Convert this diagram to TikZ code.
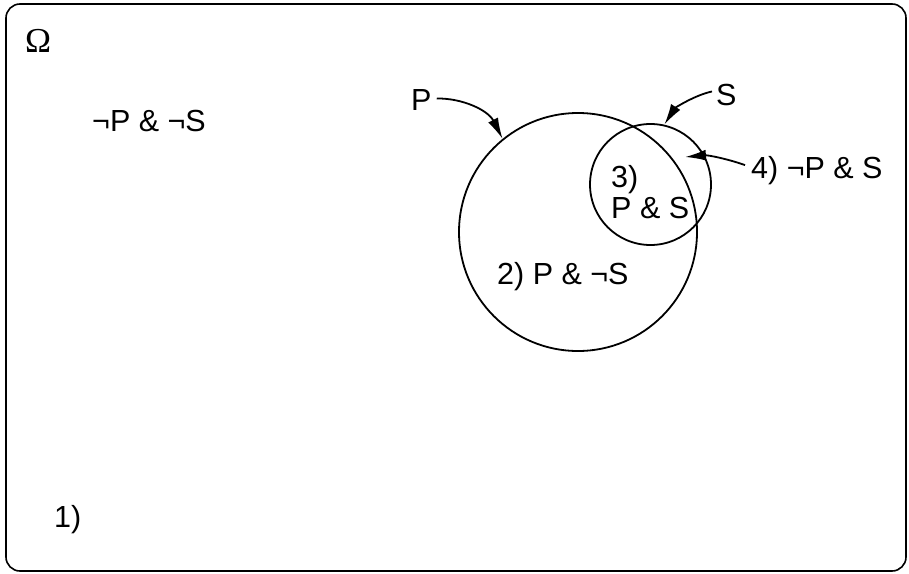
\documentclass[tikz,border=0pt]{standalone}
\usepackage{fontspec}
\setmainfont{Liberation Sans}
\newfontfamily\omegafont{Liberation Serif}
\usetikzlibrary{arrows.meta}
\begin{document}
\begin{tikzpicture}[x=1pt,y=-1pt,
  lbl/.style={inner sep=0pt, anchor=base west, font=\fontsize{30.5}{36}\selectfont},
  setcirc/.style={circle, draw, line width=1.8pt, inner sep=0pt},
  pointer/.style={line width=1.8pt, -{Latex[length=21pt,width=11pt]}}]
\useasboundingbox (0,0) rectangle (909,573);
\node[draw, line width=1.6pt, rounded corners=14pt, minimum width=900pt, minimum height=567pt, inner sep=0pt] (omega) at (456,287.5) {};
\node[inner sep=0pt, anchor=base west, font=\omegafont\fontsize{35}{40}\selectfont] (om) at (25,52) {Ω};
\node[lbl] (l1) at (92,131) {¬P \& ¬S};
\node[lbl] (n1) at (54,527) {1)};
\node[setcirc, minimum size=238pt] (P) at (578,232) {};
\node[setcirc, minimum size=121pt] (S) at (650.5,184.5) {};
\node[lbl] (n2) at (497,284) {2) P \& ¬S};
\node[lbl] (n3) at (611,187) {3)};
\node[lbl] (n3b) at (611,218) {P \& S};
\node[lbl] (n4) at (751,178) {4) ¬P \& S};
\node[lbl] (lP) at (411,110) {P};
\node[lbl] (lS) at (716,105) {S};
\coordinate (t4) at (685,157);
\draw[pointer] ([xshift=5pt,yshift=1pt]lP.east) .. controls (462,98) and (488,110) .. (P.129);
\draw[pointer] ([xshift=-4pt,yshift=3pt]lS.west) .. controls (695,95) and (675,108) .. (S.77);
\draw[pointer] ([xshift=-6pt,yshift=5pt]n4.west) .. controls (728,159) and (708,155) .. (t4);
\end{tikzpicture}
\end{document}
